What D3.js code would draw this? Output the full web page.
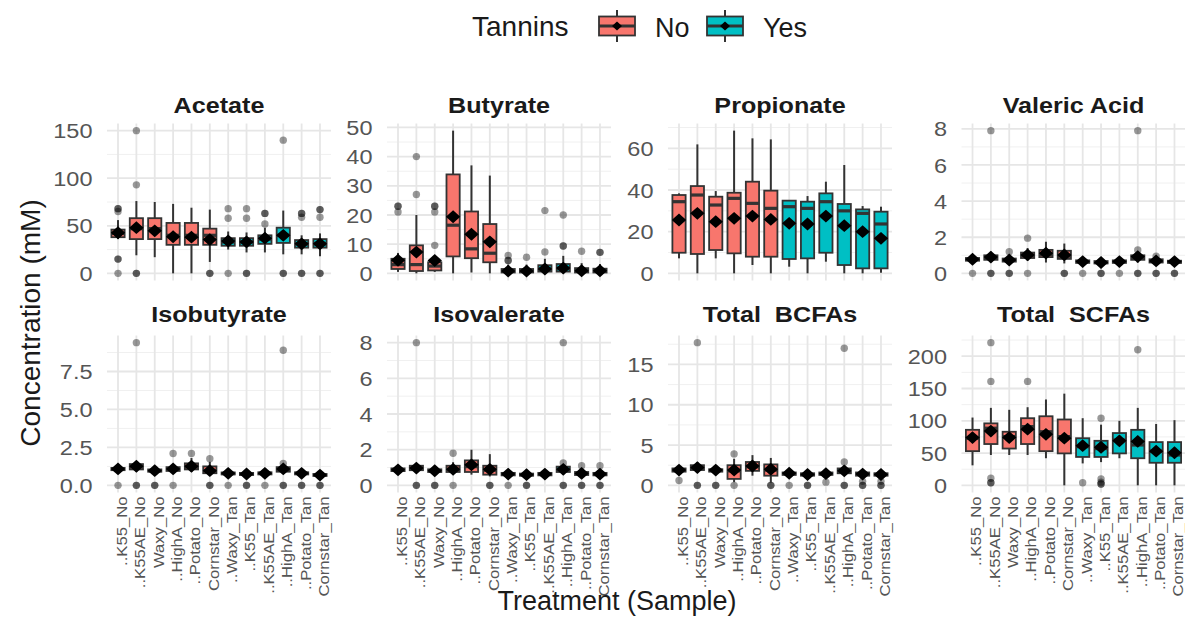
<!DOCTYPE html>
<html>
<head>
<meta charset="utf-8">
<script src="https://cdn.jsdelivr.net/npm/d3@7"></script>
<style>
  body { margin: 0; background: #fff; }
  svg text { font-family: "Liberation Sans", Arial, Helvetica, sans-serif; }
</style>
</head>
<body>
<svg id="chart" width="1185" height="617"></svg>
<script>
// ---- data ---------------------------------------------------------------
const treatments = ["..K55_No", "..K55AE_No", "Waxy_No", "..HighA_No", "..Potato_No", "Cornstar_No",
                    "..Waxy_Tan", "..K55_Tan", "..K55AE_Tan", "..HighA_Tan", "..Potato_Tan", "Cornstar_Tan"];
const tannins = ["No", "No", "No", "No", "No", "No", "Yes", "Yes", "Yes", "Yes", "Yes", "Yes"];
const acids = ["Acetate", "Butyrate", "Propionate", "Valeric Acid",
               "Isobutyrate", "Isovalerate", "Total  BCFAs", "Total  SCFAs"];

// box statistics per treatment: [lower whisker, Q1, median, Q3, upper whisker, mean]
const acetateBox = [
  [36, 38, 42, 46, 56, 42.7], [19, 36, 47, 58, 76, 48], [17, 36, 47, 58, 75, 44.7],
  [0, 30, 40, 53, 73, 38.5], [0, 30, 40, 53, 69, 38], [12, 30, 40, 47, 67, 35.5],
  [25, 29, 33, 37, 44, 34], [22, 29, 33, 37, 43, 33], [22, 31, 36, 40, 48, 37],
  [20, 32, 40, 48, 66, 40], [20, 27, 31, 35, 40, 31], [18, 27, 31, 36, 42, 31]];
const acetateOut = [[68, 68, 65, 15, 15, 0], [150, 93, 0, 0], [], [], [], [0, 0],
  [68, 58, 0], [68, 58, 0, 0], [63, 63, 52], [140, 0, 0], [63, 63, 59, 0, 0], [67, 67, 59, 0, 0]];

const butyrateBox = [
  [0.5, 1.5, 3, 5, 7, 4.5], [0, 0.8, 3, 9.6, 20, 7.3], [0.5, 1, 2.5, 3.8, 6, 4.4],
  [0, 5.8, 16.5, 33.9, 48.9, 19.4], [0.3, 5.2, 8.4, 21.2, 37, 13.4], [0, 3.8, 6.9, 16.9, 33.5, 10.8],
  [0, 0.3, 0.8, 1.5, 3, 0.8], [0, 0.3, 0.8, 1.5, 3, 0.8], [0, 0.6, 1.5, 2.8, 5, 1.5],
  [0, 0.6, 1.6, 3.2, 6, 1.8], [0, 0.3, 0.8, 1.8, 3.5, 0.9], [0, 0.3, 0.8, 1.6, 3.2, 0.9]];
const butyrateOut = [[23, 23, 21], [40, 27], [23, 23, 21, 9.6], [], [], [],
  [6.1, 4.4, 4.4], [5.5], [21.5, 7.3], [20, 9.4, 9.4], [7.6], [7.2, 7.2]];

const propionateBox = [
  [7.2, 9.9, 34.4, 37.6, 38.4, 25.6], [0, 9.3, 37.6, 41.9, 61.9, 28.8], [7.2, 11.2, 32.8, 36.8, 39.5, 24.8],
  [0, 9.6, 36, 38.7, 68.5, 26.4], [4, 8, 33.6, 44, 64.8, 27.5], [0, 8, 31.2, 39.7, 64.3, 25.9],
  [3.2, 6.9, 32, 34.9, 35.2, 24], [0, 7.2, 31.2, 34.4, 37.1, 23.7], [5.6, 9.9, 34.4, 38.4, 44, 27.5],
  [0, 4, 30, 33.3, 52, 22.9], [0, 2.4, 28.8, 30.7, 32.3, 20], [0.3, 2.4, 23.7, 29.6, 32, 16.8]];
const propionateOut = [[], [], [], [], [], [], [], [], [], [], [], []];

const valericBox = [
  [0.6, 0.7, 0.78, 0.85, 0.95, 0.78], [0.65, 0.75, 0.85, 1.0, 1.2, 0.9], [0.55, 0.65, 0.72, 0.82, 0.95, 0.74],
  [0.7, 0.85, 1.0, 1.15, 1.4, 1.02], [0.6, 0.9, 1.05, 1.3, 1.75, 1.12], [0.55, 0.8, 0.95, 1.25, 1.65, 1.02],
  [0.5, 0.58, 0.65, 0.72, 0.8, 0.65], [0.45, 0.55, 0.6, 0.68, 0.75, 0.6], [0.5, 0.58, 0.65, 0.72, 0.8, 0.65],
  [0.6, 0.75, 0.85, 1.0, 1.1, 0.93], [0.5, 0.6, 0.68, 0.78, 0.85, 0.69], [0.5, 0.58, 0.63, 0.7, 0.8, 0.65]];
const valericOut = [[0], [7.9, 0, 0], [1.2, 0, 0], [1.95, 0], [], [0, 0],
  [0], [0, 0], [0], [7.9, 1.3, 0, 0], [0.95, 0, 0], [0, 0]];

const isobutyrateBox = [
  [0.9, 1.0, 1.08, 1.15, 1.3, 1.08], [0.9, 1.05, 1.2, 1.4, 1.6, 1.26], [0.8, 0.9, 0.97, 1.05, 1.2, 0.97],
  [0.8, 0.95, 1.05, 1.2, 1.4, 1.08], [0.9, 1.05, 1.2, 1.45, 1.8, 1.26], [0.7, 0.8, 0.95, 1.25, 1.55, 0.97],
  [0.65, 0.72, 0.78, 0.85, 0.95, 0.79], [0.6, 0.68, 0.75, 0.82, 0.9, 0.75], [0.65, 0.72, 0.79, 0.86, 0.95, 0.79],
  [0.75, 0.9, 1.0, 1.2, 1.35, 1.08], [0.65, 0.72, 0.79, 0.86, 0.95, 0.79], [0.55, 0.62, 0.68, 0.75, 0.85, 0.68]];
const isobutyrateOut = [[0], [9.4, 0, 0], [0, 0], [2.1, 0], [2.1], [1.75, 0, 0],
  [0], [0, 0], [0], [8.9, 1.45, 0, 0], [0, 0], [0, 0]];

const isovalerateBox = [
  [0.7, 0.8, 0.87, 0.95, 1.05, 0.87], [0.75, 0.85, 0.95, 1.1, 1.25, 0.97], [0.65, 0.75, 0.82, 0.9, 1.0, 0.82],
  [0.65, 0.75, 0.9, 1.1, 1.3, 0.9], [0.6, 0.75, 1.05, 1.4, 2.0, 1.15], [0.5, 0.6, 0.85, 1.1, 1.75, 0.9],
  [0.5, 0.56, 0.63, 0.7, 0.78, 0.63], [0.48, 0.54, 0.6, 0.66, 0.74, 0.6], [0.5, 0.56, 0.63, 0.7, 0.78, 0.63],
  [0.6, 0.75, 0.85, 1.05, 1.15, 0.9], [0.5, 0.58, 0.67, 0.75, 0.85, 0.67], [0.5, 0.56, 0.63, 0.7, 0.8, 0.63]];
const isovalerateOut = [[], [8.0, 0, 0], [0, 0], [1.8, 0], [], [0, 0],
  [0], [0, 0], [], [8.0, 1.25, 0, 0], [1.1, 0, 0], [1.1, 0, 0]];

const bcfaBox = [
  [1.5, 1.7, 1.9, 2.1, 2.4, 1.9], [1.6, 1.9, 2.1, 2.5, 2.9, 2.2], [1.4, 1.7, 1.85, 2.0, 2.3, 1.9],
  [0.4, 0.8, 1.8, 2.5, 3.3, 1.9], [1.2, 1.8, 2.3, 2.9, 3.75, 2.4], [0.3, 1.2, 1.9, 2.6, 3.4, 2.0],
  [1.1, 1.3, 1.45, 1.6, 1.8, 1.5], [1.0, 1.2, 1.35, 1.5, 1.7, 1.35], [1.1, 1.3, 1.45, 1.6, 1.8, 1.45],
  [1.2, 1.5, 1.75, 2.1, 2.5, 1.8], [1.0, 1.2, 1.4, 1.6, 1.8, 1.4], [1.0, 1.2, 1.35, 1.5, 1.7, 1.35]];
const bcfaOut = [[0.6], [17.7, 0, 0], [0, 0], [3.9, 0], [], [0, 0],
  [0], [0, 0], [0.4], [17.0, 2.9, 0, 0], [0.5, 0, 0], [0.5, 0, 0]];

const scfaBox = [
  [31, 53, 73, 86, 105, 74], [47, 64, 88.5, 96, 120, 84], [47, 57, 75.5, 83, 117, 74],
  [47, 64, 91, 104, 121, 87], [42, 53, 83, 107, 133, 79], [0, 49.5, 75.5, 102, 142, 73],
  [34, 44, 60, 73, 104, 61.5], [36, 44, 57, 69, 94, 59], [42, 49.5, 70, 81, 100, 69],
  [0, 42, 62.5, 86, 120, 68], [0, 35, 53, 67, 95, 53], [0, 35, 47, 67, 101, 50.5]];
const scfaOut = [[], [221, 161, 11, 4, 4], [], [161], [], [],
  [4], [104, 10, 5, 2, 2], [], [210], [], []];

// axis breaks for each facet
const acetateTicks = [0, 50, 100, 150];
const butyrateTicks = [0, 10, 20, 30, 40, 50];
const propionateTicks = [0, 20, 40, 60];
const valericTicks = [0, 2, 4, 6, 8];
const isobutyrateTicks = [0, 2.5, 5, 7.5];
const isovalerateTicks = [0, 2, 4, 6, 8];
const bcfaTicks = [0, 5, 10, 15];
const scfaTicks = [0, 50, 100, 150, 200];
const isobutyrateTickLabels = ["0.0", "2.5", "5.0", "7.5"];

const boxes = [acetateBox, butyrateBox, propionateBox, valericBox, isobutyrateBox, isovalerateBox, bcfaBox, scfaBox];
const outliers = [acetateOut, butyrateOut, propionateOut, valericOut, isobutyrateOut, isovalerateOut, bcfaOut, scfaOut];
const ticks = [acetateTicks, butyrateTicks, propionateTicks, valericTicks, isobutyrateTicks, isovalerateTicks, bcfaTicks, scfaTicks];

// ---- layout ---------------------------------------------------------------
const colLeft = [107, 387, 668, 961.5];
const rowTop = [123.5, 335.5];
const panelW = 224, panelH = 157;
const fill = d3.scaleOrdinal().domain(["No", "Yes"]).range(["#F8766D", "#00BFC4"]);
const lineCol = "#333333";

const svg = d3.select("#chart");

function diamond(hw, hh) {
  return `M0,${-hh}L${hw},0L0,${hh}L${-hw},0Z`;
}

acids.forEach((name, i) => {
  const col = i % 4, row = Math.floor(i / 4);
  const left = colLeft[col], top = rowTop[row];
  const box = boxes[i], out = outliers[i];

  const x = d3.scalePoint().domain(treatments).range([left, left + panelW]).padding(0.6);
  const all = [];
  box.forEach((b, j) => { all.push(...b); all.push(...out[j]); });
  const [mn, mx] = d3.extent(all);
  const pad = (mx - mn) * 0.05;
  const y = d3.scaleLinear().domain([mn - pad, mx + pad]).range([top + panelH, top]);

  const g = svg.append("g");

  // minor horizontal grid
  const br = ticks[i];
  const step = br[1] - br[0];
  const minors = [br[0] - step / 2].concat(br.map(v => v + step / 2))
    .filter(v => v > y.domain()[0] && v < y.domain()[1]);
  g.selectAll(".minor").data(minors).join("line")
    .attr("x1", left).attr("x2", left + panelW)
    .attr("y1", d => y(d)).attr("y2", d => y(d))
    .attr("stroke", "#f0f0f0").attr("stroke-width", 1);
  // major horizontal grid
  g.selectAll(".majorY").data(br).join("line")
    .attr("x1", left).attr("x2", left + panelW)
    .attr("y1", d => y(d)).attr("y2", d => y(d))
    .attr("stroke", "#e6e6e6").attr("stroke-width", 1.8);
  // major vertical grid
  g.selectAll(".majorX").data(treatments).join("line")
    .attr("x1", d => x(d)).attr("x2", d => x(d))
    .attr("y1", top).attr("y2", top + panelH)
    .attr("stroke", "#e6e6e6").attr("stroke-width", 1.8);

  // y tick labels
  const labels = i === 4 ? isobutyrateTickLabels : br.map(String);
  g.selectAll(".ylab").data(br).join("text")
    .attr("transform", d => `translate(${left - 14.5},${y(d)}) scale(1.12,1)`)
    .attr("dy", "0.36em")
    .attr("text-anchor", "end")
    .attr("font-size", 21)
    .attr("fill", "#555")
    .text((d, k) => labels[k]);

  // facet strip title
  svg.append("text")
    .attr("transform", `translate(${left + panelW / 2},${row === 0 ? 113 : 322}) scale(1.17,1)`)
    .attr("text-anchor", "middle")
    .attr("font-size", 21.5)
    .attr("font-weight", "bold")
    .attr("fill", "#1a1a1a")
    .style("white-space", "pre")
    .text(name);

  const bw = x.step() * 0.72;
  treatments.forEach((t, j) => {
    const [lo, q1, med, q3, hi, mean] = box[j];
    const cx = x(t);
    // outliers
    g.selectAll(null).data(out[j]).join("circle")
      .attr("cx", cx).attr("cy", d => y(d)).attr("r", 3.7)
      .attr("fill", "#000").attr("fill-opacity", 0.4);
    // whiskers
    g.append("line").attr("x1", cx).attr("x2", cx).attr("y1", y(hi)).attr("y2", y(q3))
      .attr("stroke", lineCol).attr("stroke-width", 2);
    g.append("line").attr("x1", cx).attr("x2", cx).attr("y1", y(q1)).attr("y2", y(lo))
      .attr("stroke", lineCol).attr("stroke-width", 2);
    // box
    g.append("rect").attr("x", cx - bw / 2).attr("width", bw)
      .attr("y", y(q3)).attr("height", Math.max(0.5, y(q1) - y(q3)))
      .attr("fill", fill(tannins[j])).attr("stroke", lineCol).attr("stroke-width", 1.8);
    g.append("line").attr("x1", cx - bw / 2).attr("x2", cx + bw / 2).attr("y1", y(med)).attr("y2", y(med))
      .attr("stroke", lineCol).attr("stroke-width", 3.2);
    // mean marker
    g.append("path").attr("d", diamond(7.2, 6.4))
      .attr("transform", `translate(${cx},${y(mean)})`)
      .attr("fill", "#000");
  });

  // x tick labels on the bottom row only
  if (row === 1) {
    g.selectAll(".xlab").data(treatments).join("text")
      .attr("transform", d => `translate(${x(d) - 1.5},${top + panelH + 4}) rotate(-90) scale(1.15,1)`)
      .attr("text-anchor", "end")
      .attr("dominant-baseline", "hanging")
      .attr("font-size", 14.5)
      .attr("fill", "#555")
      .text(d => d);
  }
});

// axis titles
svg.append("text")
  .attr("transform", "translate(40,323) rotate(-90)")
  .attr("text-anchor", "middle")
  .attr("font-size", 28)
  .attr("fill", "#1a1a1a")
  .text("Concentration (mM)");
svg.append("text")
  .attr("x", 617).attr("y", 610)
  .attr("text-anchor", "middle")
  .attr("font-size", 27)
  .attr("fill", "#1a1a1a")
  .text("Treatment (Sample)");

// legend
const legend = svg.append("g");
legend.append("text").attr("x", 472).attr("y", 36)
  .attr("font-size", 28).attr("fill", "#1a1a1a").text("Tannins");
const keyX = { No: 599, Yes: 707 };
["No", "Yes"].forEach(k => {
  const kx = keyX[k], kw = 36, mid = kx + kw / 2;
  legend.append("line").attr("x1", mid).attr("x2", mid).attr("y1", 10).attr("y2", 42)
    .attr("stroke", lineCol).attr("stroke-width", 2);
  legend.append("rect").attr("x", kx).attr("y", 16.5).attr("width", kw).attr("height", 19)
    .attr("fill", fill(k)).attr("stroke", lineCol).attr("stroke-width", 1.8);
  legend.append("line").attr("x1", kx).attr("x2", kx + kw).attr("y1", 26).attr("y2", 26)
    .attr("stroke", lineCol).attr("stroke-width", 3);
  legend.append("path").attr("d", diamond(5, 4.5)).attr("transform", `translate(${mid},26)`).attr("fill", "#000");
  legend.append("text").attr("x", kx + 56).attr("y", 37)
    .attr("font-size", 27).attr("fill", "#1a1a1a").text(k);
});
</script>
</body>
</html>
